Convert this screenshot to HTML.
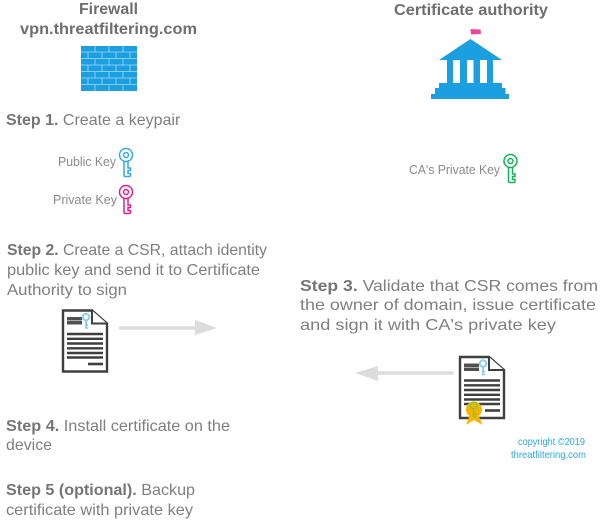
<!DOCTYPE html>
<html><head><meta charset="utf-8"><style>
html,body{margin:0;padding:0;background:#fff;width:602px;height:525px;overflow:hidden}
svg{display:block}
text{font-family:"Liberation Sans",sans-serif;fill:#7f7f7f}
.t{font-size:16px}
.b{font-weight:bold;fill:#757575}
.h{font-size:16px;font-weight:bold;fill:#6e6e6e}
.k{font-size:13px;fill:#8a8a8a}
.c{font-size:10px;fill:#2ea8e0}
</style></head><body>
<svg width="602" height="525" viewBox="0 0 602 525" xmlns="http://www.w3.org/2000/svg">
<defs>
<g id="doc">
<path d="M1 1H30L45 14V62H1Z" fill="#fff" stroke="#3f3f3f" stroke-width="2.400"/>
<path d="M30 1V14H45" fill="#fff" stroke="#3f3f3f" stroke-width="2"/>
<path d="M5 7.500H20V11H5ZM5 11.500H20V15H5Z" fill="#505050"/>
<path d="M5 24.500H41M5 29.300H41M5 34H41M5 38.800H41M5 43.500H41M5 48H41" stroke="#3f3f3f" stroke-width="2.400"/>
<path d="M26 54.500H41" stroke="#3f3f3f" stroke-width="2.600"/>
<circle cx="24" cy="7.500" r="3.300" fill="none" stroke="#8ccff0" stroke-width="2"/>
<path d="M24 11V18.500H26M24 15.500H26" fill="none" stroke="#7cc8ee" stroke-width="1.600"/>
</g>
<g id="key" fill="none" stroke-width="1.500">
<circle cx="0" cy="0" r="6.500"/><circle cx="0" cy="0" r="2.500"/>
<path d="M-2 6.500V20Q-2 21.500 -0.500 21.500H3Q4.500 21.500 4.500 20V18.500H2V15.500H4.500V13H2V6.500"/>
</g>
</defs>

<!-- headers -->
<text x="79" y="14" class="h" textLength="59" lengthAdjust="spacingAndGlyphs">Firewall</text>
<text x="20" y="34" class="h" textLength="177" lengthAdjust="spacingAndGlyphs">vpn.threatfiltering.com</text>
<text x="394" y="15" class="h" textLength="154" lengthAdjust="spacingAndGlyphs">Certificate authority</text>

<!-- wall -->
<rect x="81" y="46" width="56" height="45" fill="#1b9fe0"/>
<g stroke="#a9d9f3" stroke-width="0.800" fill="none">
<path d="M81 52H137M81 58.500H137M81 65H137M81 71.500H137M81 78H137M81 84.500H137"/>
<path d="M95 46V52M109 46V52M123 46V52M88 52V58.500M102 52V58.500M116 52V58.500M130 52V58.500M95 58.500V65M109 58.500V65M123 58.500V65M88 65V71.500M102 65V71.500M116 65V71.500M130 65V71.500M95 71.500V78M109 71.500V78M123 71.500V78M88 78V84.500M102 78V84.500M116 78V84.500M130 78V84.500M95 84.500V91M109 84.500V91M123 84.500V91"/>
</g>

<!-- bank -->
<path d="M470.500 29L471 34.500L481 34L480.500 29.500Z" fill="#f0479b"/>
<path d="M470.500 39L502 60H439Z" fill="#1b9fe0"/>
<path d="M447 60H493V83H502V88H505.500V94H509V99H431V94H435V88H439V83H447Z" fill="#1b9fe0"/>
<rect x="453" y="60" width="7" height="23" fill="#fff"/>
<rect x="467" y="60" width="6.500" height="23" fill="#fff"/>
<rect x="480" y="60" width="7" height="23" fill="#fff"/>

<!-- step 1 -->
<text x="6" y="125" class="t"><tspan class="b">Step 1.</tspan> Create a keypair</text>

<text x="58" y="166" class="k" textLength="58" lengthAdjust="spacingAndGlyphs">Public Key</text>
<use href="#key" x="126" y="155" stroke="#35a9e6"/>
<text x="53" y="204" class="k" textLength="64" lengthAdjust="spacingAndGlyphs">Private Key</text>
<use href="#key" x="126" y="192" stroke="#e0218a"/>
<text x="409" y="174" class="k" textLength="91" lengthAdjust="spacingAndGlyphs">CA's Private Key</text>
<use href="#key" x="510.500" y="161" stroke="#12b25a"/>

<!-- step 2 -->
<text x="7" y="255" class="t" textLength="260" lengthAdjust="spacingAndGlyphs"><tspan class="b">Step 2.</tspan> Create a CSR, attach identity</text>
<text x="7" y="275" class="t" textLength="253" lengthAdjust="spacingAndGlyphs">public key and send it to Certificate</text>
<text x="7" y="295" class="t" textLength="120" lengthAdjust="spacingAndGlyphs">Authority to sign</text>

<!-- step 3 -->
<text x="300" y="291" class="t" textLength="298" lengthAdjust="spacingAndGlyphs"><tspan class="b">Step 3.</tspan> Validate that CSR comes from</text>
<text x="300" y="310" class="t" textLength="296" lengthAdjust="spacingAndGlyphs">the owner of domain, issue certificate</text>
<text x="300" y="330" class="t" textLength="256" lengthAdjust="spacingAndGlyphs">and sign it with CA's private key</text>

<!-- doc 1 and arrow -->
<use href="#doc" x="62" y="309.500"/>
<path d="M120.500 328H196" stroke="#dcdcdc" stroke-width="3.500" stroke-linecap="round"/>
<path d="M195 320L217 328L195 335Z" fill="#dcdcdc"/>

<!-- doc 2 and arrow -->
<use href="#doc" x="459" y="356"/>
<path d="M377 373H452" stroke="#dcdcdc" stroke-width="3.500" stroke-linecap="round"/>
<path d="M378 366L355 373L378 381Z" fill="#dcdcdc"/>

<!-- seal -->
<path d="M470 414L466 425L474 420L482.500 425L478 414Z" fill="#f7b500"/>
<circle cx="474" cy="409.500" r="8" fill="#f7b500"/>
<circle cx="473.500" cy="405.500" r="3.300" fill="none" stroke="#8fc23f" stroke-width="1.600"/>
<path d="M473.500 409V417H476.500M473.500 414H476.500" fill="none" stroke="#8fc23f" stroke-width="1.400"/>

<!-- copyright -->
<text x="518" y="445" class="c" textLength="67" lengthAdjust="spacingAndGlyphs">copyright ©2019</text>
<text x="511" y="458" class="c" textLength="75" lengthAdjust="spacingAndGlyphs">threatfiltering.com</text>

<!-- step 4 -->
<text x="6" y="431" class="t" textLength="224" lengthAdjust="spacingAndGlyphs"><tspan class="b">Step 4.</tspan> Install certificate on the</text>
<text x="6" y="450" class="t" textLength="46" lengthAdjust="spacingAndGlyphs">device</text>

<!-- step 5 -->
<text x="6" y="495" class="t" textLength="189" lengthAdjust="spacingAndGlyphs"><tspan class="b">Step 5 (optional).</tspan> Backup</text>
<text x="6" y="515" class="t" textLength="187" lengthAdjust="spacingAndGlyphs">certificate with private key</text>
</svg>
</body></html>
